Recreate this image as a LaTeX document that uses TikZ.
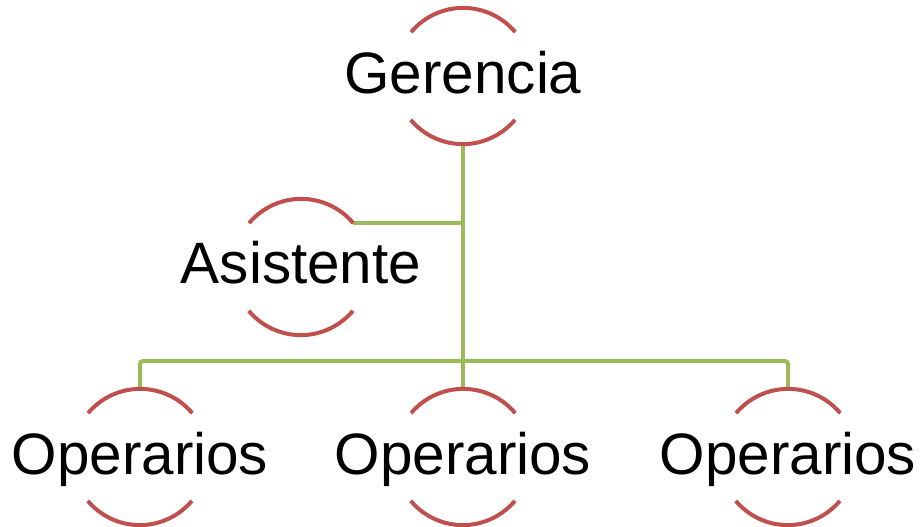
\documentclass[tikz,border=0pt]{standalone}
\usepackage{fontspec}
\setmainfont{Liberation Sans}
\definecolor{arcred}{HTML}{C0504D}
\definecolor{lineg}{HTML}{9BBB59}
\begin{document}
\begin{tikzpicture}[x=1pt,y=1pt,
 ring/.style={circle,minimum size=136pt,inner sep=0pt},
 lbl/.style={anchor=base,font=\fontsize{58.4}{60}\selectfont,inner sep=0pt},
 arcline/.style={draw=arcred,line width=4pt},
 conn/.style={draw=lineg,line width=4pt}]
\useasboundingbox (0,0) rectangle (922,527);
\node[ring] (g) at (463,451) {};
\node[ring] (a) at (301,260) {};
\node[ring] (o1) at (140,70) {};
\node[ring] (o2) at (463,70) {};
\node[ring] (o3) at (788,70) {};
\coordinate (bus) at (463,166);
% connectors
\draw[conn] (g.south) -- (o2.north);
\draw[conn] (a.40) -- (a.40 -| g.south);
\draw[conn,rounded corners=3pt] (o1.north) -- (o1.north |- bus) -- (o3.north |- bus) -- (o3.north);
% rings
\foreach \n in {g,a,o1,o2,o3} {
  \draw[arcline] (\n.40) arc[start angle=40,end angle=140,radius=68pt];
  \draw[arcline] (\n.220) arc[start angle=220,end angle=320,radius=68pt];
}
% labels
\node[lbl] (gt) at ([yshift=-18pt]g.center) {Gerencia};
\node[lbl] (at) at ([yshift=-17pt]a.center) {Asistente};
\node[lbl] (o1t) at ([yshift=-18pt]o1.center) {Operarios};
\node[lbl] (o2t) at ([yshift=-18pt]o2.center) {Operarios};
\node[lbl] (o3t) at ([yshift=-18pt]o3.center) {Operarios};
\end{tikzpicture}
\end{document}
